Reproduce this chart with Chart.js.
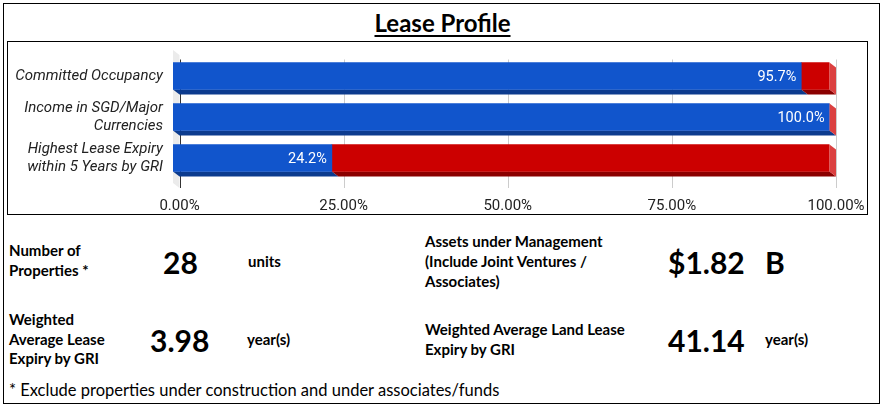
<!DOCTYPE html>
<html lang="en">
<head>
  <meta charset="UTF-8" />
  <title>Lease Profile</title>
  <script src="https://cdn.jsdelivr.net/npm/chart.js"></script>
  <style>
    body {
      margin: 0;
      background: #fff;
      font-family: Lato, "Open Sans", sans-serif;
      color: #000;
    }
    .frame {
      position: absolute;
      left: 3px; top: 3px;
      width: 875px; height: 399px;
      border: 1.5px solid #000;
    }
    .title {
      position: absolute;
      left: 0; width: 885px; top: 8px;
      text-align: center;
      font-weight: bold;
      font-size: 24px;
      text-decoration: underline;
      text-underline-offset: 3px;
    }
    .chart-box {
      position: absolute;
      left: 7px; top: 41px;
      width: 859px; height: 172px;
      border: 1.5px solid #000;
    }
    .chart-box canvas { position: absolute; left: 0; top: 0; }
    .t {
      position: absolute;
      font-weight: bold;
      font-size: 15px;
      line-height: 19.5px;
      white-space: nowrap;
    }
    .big { font-size: 30px; line-height: 36px; }
    .note {
      position: absolute;
      left: 9px; top: 380px;
      font-size: 16.5px;
      line-height: 20px;
      white-space: nowrap;
    }
  </style>
</head>
<body>
  <div class="frame"></div>
  <div class="title">Lease Profile</div>

  <div class="chart-box">
    <canvas id="leaseChart" width="859" height="172"></canvas>
  </div>

  <!-- key figures -->
  <div class="t" style="left:9px; top:241px;">Number of<br>Properties *</div>
  <div class="t big" style="left:163px; top:244px;">28</div>
  <div class="t" style="left:248px; top:252px;">units</div>

  <div class="t" style="left:425px; top:231px; line-height:20px;">Assets under Management<br>(Include Joint Ventures /<br>Associates)</div>
  <div class="t big" style="left:668px; top:244px;">$1.82</div>
  <div class="t big" style="left:765px; top:244px;">B</div>

  <div class="t" style="left:9px; top:310px;">Weighted<br>Average Lease<br>Expiry by GRI</div>
  <div class="t big" style="left:150px; top:322px;">3.98</div>
  <div class="t" style="left:247px; top:330px;">year(s)</div>

  <div class="t" style="left:425px; top:320px;">Weighted Average Land Lease<br>Expiry by GRI</div>
  <div class="t big" style="left:668px; top:322px;">41.14</div>
  <div class="t" style="left:765px; top:330px;">year(s)</div>

  <div class="note">* Exclude properties under construction and under associates/funds</div>

  <script>
    // data
    const categories = [
      ['Committed Occupancy'],
      ['Income in SGD/Major', 'Currencies'],
      ['Highest Lease Expiry', 'within 5 Years by GRI']
    ];
    const mainValues = [95.7, 100.0, 24.2];
    const restValues = [4.3, 0.0, 75.8];
    const xTicks = [0, 25, 50, 75, 100];

    // 3d look
    const DX = 6.5, DY = 5;
    const frontColors = ['#1155cc', '#cc0000'];
    const bottomColors = ['#0c3b8e', '#8b0000'];
    const sideColor = '#db4040';

    const bars3d = {
      id: 'bars3d',
      beforeDatasetsDraw(chart) {
        const { ctx, chartArea: a, scales } = chart;
        const x0 = scales.x.getPixelForValue(0);
        // left wall
        ctx.save();
        ctx.fillStyle = '#ebebeb';
        ctx.beginPath();
        ctx.moveTo(x0 - DX, a.top - 5.5);
        ctx.lineTo(x0, a.top - 0.5);
        ctx.lineTo(x0, a.bottom + 9.5);
        ctx.lineTo(x0 - DX, a.bottom + 4.5);
        ctx.closePath();
        ctx.fill();
        // grid lines on the back plane
        xTicks.forEach((v, i) => {
          const px = Math.round(scales.x.getPixelForValue(v)) + 0.5;
          ctx.strokeStyle = i === 0 ? '#333' : '#cccccc';
          ctx.lineWidth = 1;
          ctx.beginPath();
          ctx.moveTo(px, a.top + 4);
          ctx.lineTo(px, a.bottom + 9.5);
          ctx.stroke();
        });
        ctx.restore();

        // depth faces, then shift fronts to the left
        ctx.save();
        ctx.translate(-DX, 0);
        const metas = [chart.getDatasetMeta(0), chart.getDatasetMeta(1)];
        metas.forEach((meta, di) => {
          meta.data.forEach(el => {
            const p = el.getProps(['x', 'y', 'base', 'height'], true);
            const yb = p.y + p.height / 2;
            ctx.fillStyle = bottomColors[di];
            ctx.beginPath();
            ctx.moveTo(p.base, yb);
            ctx.lineTo(p.x, yb);
            ctx.lineTo(p.x + DX, yb + DY);
            ctx.lineTo(p.base + DX, yb + DY);
            ctx.closePath();
            ctx.fill();
          });
        });
        metas[1].data.forEach(el => {
          const p = el.getProps(['x', 'y', 'height'], true);
          const yt = p.y - p.height / 2, yb = p.y + p.height / 2;
          ctx.fillStyle = sideColor;
          ctx.beginPath();
          ctx.moveTo(p.x, yt);
          ctx.lineTo(p.x + DX, yt + DY);
          ctx.lineTo(p.x + DX, yb + DY);
          ctx.lineTo(p.x, yb);
          ctx.closePath();
          ctx.fill();
        });
      },
      afterDatasetsDraw(chart) {
        const ctx = chart.ctx;
        // value labels on the blue part
        ctx.fillStyle = '#fff';
        ctx.font = '14.5px Roboto';
        ctx.textAlign = 'right';
        ctx.textBaseline = 'middle';
        chart.getDatasetMeta(0).data.forEach((el, i) => {
          ctx.fillText(mainValues[i].toFixed(1) + '%', el.x - 5, el.y + 1);
        });
        ctx.restore();
      }
    };

    new Chart(document.getElementById('leaseChart'), {
      type: 'bar',
      data: {
        labels: categories,
        datasets: [
          { data: mainValues, backgroundColor: frontColors[0], barThickness: 27 },
          { data: restValues, backgroundColor: frontColors[1], barThickness: 27 }
        ]
      },
      options: {
        indexAxis: 'y',
        responsive: false,
        animation: false,
        layout: { padding: { left: 0, right: 31, top: 13.5, bottom: 0 } },
        plugins: { legend: { display: false }, tooltip: { enabled: false } },
        scales: {
          x: {
            stacked: true,
            min: 0, max: 100,
            afterFit(s) {
              s.height = 35.5;
              s.paddingLeft = 0; s.paddingRight = 0;
            },
            afterBuildTicks(s) { s.ticks = xTicks.map(v => ({ value: v })); },
            grid: { display: false, drawTicks: false },
            border: { display: false },
            ticks: {
              padding: 19,
              color: '#222',
              maxRotation: 0,
              font: { family: 'Roboto', size: 15 },
              callback: v => v.toFixed(2) + '%'
            }
          },
          y: {
            stacked: true,
            afterFit(s) {
              s.width = 171.5;
              s.paddingTop = 0; s.paddingBottom = 0;
            },
            grid: { display: false, drawTicks: false },
            border: { display: false },
            ticks: {
              autoSkip: false,
              padding: 16.5,
              color: '#222',
              font: { family: 'Roboto', size: 15, style: 'italic', lineHeight: 1.2 }
            }
          }
        }
      },
      plugins: [bars3d]
    });
  </script>
</body>
</html>
